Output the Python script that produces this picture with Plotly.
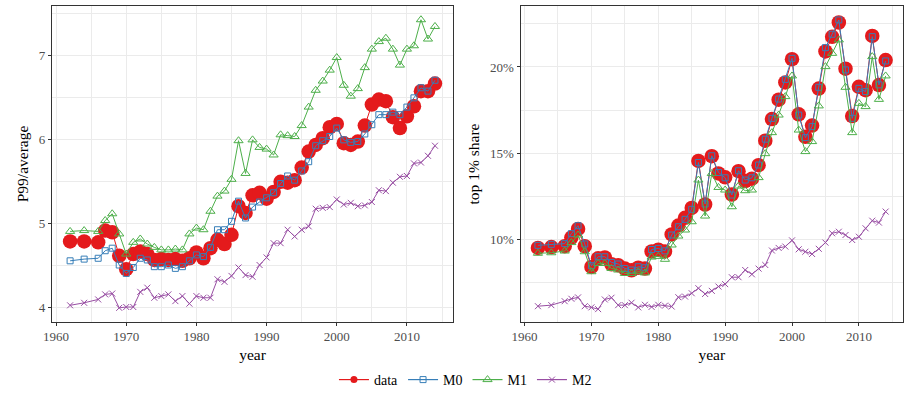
import plotly.graph_objects as go

# ---- data -------------------------------------------------------------
years = [1962, 1964] + list(range(1966, 2015))

# P99 / average income
p99_data = [4.78, 4.78, 4.77, 4.91, 4.89, 4.61, 4.45, 4.63, 4.66, 4.63,
            4.56, 4.57, 4.56, 4.57, 4.55, 4.58, 4.65, 4.58, 4.70, 4.80,
            4.75, 4.86, 5.20, 5.12, 5.33, 5.36, 5.29, 5.37, 5.49, 5.48,
            5.51, 5.66, 5.85, 5.93, 6.01, 6.14, 6.18, 5.95, 5.93, 5.97,
            6.16, 6.41, 6.47, 6.45, 6.26, 6.13, 6.27, 6.39, 6.57, 6.57,
            6.66]
p99_m0 = [4.55, 4.57, 4.58, 4.67, 4.70, 4.50, 4.40, 4.47, 4.58, 4.56,
          4.48, 4.48, 4.50, 4.46, 4.48, 4.55, 4.62, 4.60, 4.71, 4.92,
          4.92, 5.02, 5.26, 5.06, 5.19, 5.25, 5.30, 5.36, 5.47, 5.56,
          5.51, 5.62, 5.73, 5.92, 5.98, 6.03, 6.13, 5.99, 5.96, 5.97,
          6.06, 6.17, 6.29, 6.29, 6.32, 6.29, 6.38, 6.49, 6.61, 6.57,
          6.70]
p99_m1 = [4.90, 4.91, 4.90, 5.03, 5.11, 4.87, 4.63, 4.77, 4.81, 4.75,
          4.71, 4.68, 4.68, 4.69, 4.68, 4.87, 4.94, 4.92, 5.14, 5.32,
          5.38, 5.52, 5.98, 5.59, 5.99, 5.90, 5.88, 5.81, 6.05, 6.04,
          6.03, 6.16, 6.38, 6.58, 6.69, 6.82, 6.97, 6.64, 6.51, 6.60,
          6.85, 7.07, 7.16, 7.20, 7.07, 6.88, 7.07, 7.11, 7.42, 7.19,
          7.34]
p99_m2 = [4.02, 4.05, 4.09, 4.15, 4.16, 3.99, 4.00, 4.00, 4.18, 4.23,
          4.11, 4.13, 4.15, 4.07, 4.13, 4.04, 4.13, 4.11, 4.11, 4.33,
          4.30, 4.37, 4.47, 4.38, 4.36, 4.50, 4.59, 4.76, 4.76, 4.92,
          4.84, 4.92, 4.96, 5.17, 5.18, 5.19, 5.28, 5.22, 5.24, 5.20,
          5.21, 5.25, 5.39, 5.38, 5.48, 5.55, 5.56, 5.71, 5.72, 5.80,
          5.92]

# top 1% income share (percent)
top_data = [9.50, 9.55, 9.60, 10.10, 10.60, 9.60, 8.40, 8.90, 8.95, 8.55,
            8.50, 8.30, 8.20, 8.35, 8.30, 9.30, 9.40, 9.30, 10.28, 10.80,
            11.25, 11.82, 14.55, 12.02, 14.82, 13.82, 13.60, 12.60, 13.95, 13.38,
            13.52, 14.30, 15.72, 16.98, 18.10, 19.10, 20.45, 17.25, 15.95, 16.60,
            18.75, 20.90, 21.75, 22.58, 19.90, 17.15, 18.85, 18.65, 21.80, 18.95,
            20.40]
top_m0 = [9.65, 9.71, 9.75, 10.33, 10.79, 9.73, 8.47, 8.99, 8.99, 8.66,
          8.57, 8.31, 8.22, 8.41, 8.35, 9.41, 9.47, 9.33, 10.25, 10.73,
          11.16, 11.74, 14.46, 12.05, 14.85, 13.88, 13.57, 12.57, 13.98, 13.44,
          13.57, 14.31, 15.81, 17.02, 18.14, 19.28, 20.50, 17.21, 15.90, 16.54,
          18.82, 21.12, 21.90, 22.73, 19.83, 17.02, 18.76, 18.57, 21.76, 18.96,
          20.35]
top_m1 = [9.19, 9.22, 9.32, 9.81, 10.25, 9.28, 8.12, 8.60, 8.60, 8.31,
          8.22, 8.02, 8.02, 8.12, 8.05, 8.97, 9.01, 8.84, 9.67, 10.19,
          10.54, 11.02, 13.44, 11.35, 13.82, 13.01, 12.86, 11.89, 13.09, 12.82,
          12.86, 13.58, 14.97, 16.19, 17.21, 18.28, 19.48, 16.34, 15.09, 15.67,
          17.74, 20.02, 20.79, 21.57, 18.82, 16.19, 17.89, 17.70, 20.60, 18.12,
          19.48]
top_m2 = [6.12, 6.18, 6.41, 6.55, 6.63, 6.12, 6.05, 5.95, 6.51, 6.61,
          6.18, 6.18, 6.32, 6.05, 6.20, 6.08, 6.20, 6.15, 6.10, 6.64,
          6.68, 6.87, 7.16, 6.83, 7.01, 7.26, 7.40, 7.80, 7.80, 8.22,
          7.97, 8.30, 8.51, 9.35, 9.50, 9.58, 9.94, 9.42, 9.28, 9.15,
          9.45, 9.81, 10.35, 10.44, 10.25, 9.96, 10.15, 10.64, 11.08, 10.97,
          11.61]

series_names = ["data", "M0", "M1", "M2"]
colors = {"data": "#E41A1C", "M0": "#377EB8", "M1": "#4DAF4A", "M2": "#984EA3"}

# ---- styling ----------------------------------------------------------
FONT = "Liberation Serif, DejaVu Serif, serif"
W, H = 904, 396


def marker_for(name, legend=False):
    c = colors[name]
    if name == "data":
        return dict(symbol="circle", size=7 if legend else 14.5, color=c, line=dict(width=0))
    if name == "M0":
        return dict(symbol="square-open", size=6, color=c, line=dict(width=1, color=c))
    if name == "M1":
        return dict(symbol="triangle-up-open", size=8, color=c, line=dict(width=1, color=c))
    return dict(symbol="x-thin-open", size=6, color=c, line=dict(width=1, color=c))


fig = go.Figure()

panels = [
    ("x", "y", {"data": p99_data, "M0": p99_m0, "M1": p99_m1, "M2": p99_m2}),
    ("x2", "y2", {"data": top_data, "M0": top_m0, "M1": top_m1, "M2": top_m2}),
]
for xa, ya, vals in panels:
    for name in series_names:
        fig.add_trace(go.Scatter(
            x=years, y=vals[name], xaxis=xa, yaxis=ya,
            mode="lines+markers", name=name, showlegend=False,
            line=dict(color=colors[name], width=1),
            marker=marker_for(name),
            hoverinfo="x+y+name",
        ))

# legend entries
for name in series_names:
    fig.add_trace(go.Scatter(
        x=[None], y=[None], mode="lines+markers", name=name,
        line=dict(color=colors[name], width=1.2),
        marker=marker_for(name, legend=True),
        showlegend=True,
    ))

grid = "#EBEBEB"
axis_common = dict(
    showline=True, mirror=True, linecolor="#333333", linewidth=1,
    showgrid=True, gridcolor=grid, gridwidth=1.1,
    ticks="outside", ticklen=3, tickwidth=1, tickcolor="#333333",
    tickfont=dict(family=FONT, size=13, color="#4D4D4D"),
    zeroline=False,
)

title_font = dict(family=FONT, size=15.5, color="black")

x_common = dict(axis_common, range=[1959.4, 2016.6], tick0=1960, dtick=10,
                minor=dict(dtick=5, tick0=1960, showgrid=True, gridcolor=grid, gridwidth=0.55),
                title=dict(text="year", font=title_font, standoff=5))

fig.update_layout(
    width=W, height=H,
    margin=dict(l=0, r=0, t=0, b=0),
    paper_bgcolor="white", plot_bgcolor="white",
    font=dict(family=FONT, color="black"),
    xaxis=dict(x_common, domain=[43.3 / W, 448.7 / W], anchor="y"),
    xaxis2=dict(x_common, domain=[516.7 / W, 903.0 / W], anchor="y2"),
    yaxis=dict(axis_common, domain=[1 - 321.7 / H, 1 - 6.3 / H], anchor="x",
               range=[3.825, 7.58], tick0=4, dtick=1,
               minor=dict(dtick=0.5, tick0=4, showgrid=True, gridcolor=grid, gridwidth=0.55),
               title=dict(text="P99/average", font=title_font, standoff=6)),
    yaxis2=dict(axis_common, domain=[1 - 321.7 / H, 1 - 6.3 / H], anchor="x2",
                range=[5.22, 23.52], tick0=0, dtick=5, ticksuffix="%",
                minor=dict(dtick=2.5, tick0=0, showgrid=True, gridcolor=grid, gridwidth=0.55),
                title=dict(text="top 1% share", font=title_font, standoff=6)),
    legend=dict(orientation="h", x=0.51, xanchor="center", y=0.0, yanchor="bottom",
                font=dict(family=FONT, size=14, color="black"),
                bgcolor="rgba(0,0,0,0)", itemwidth=30, tracegroupgap=0),
    showlegend=True,
)

fig.write_html("out.html")
